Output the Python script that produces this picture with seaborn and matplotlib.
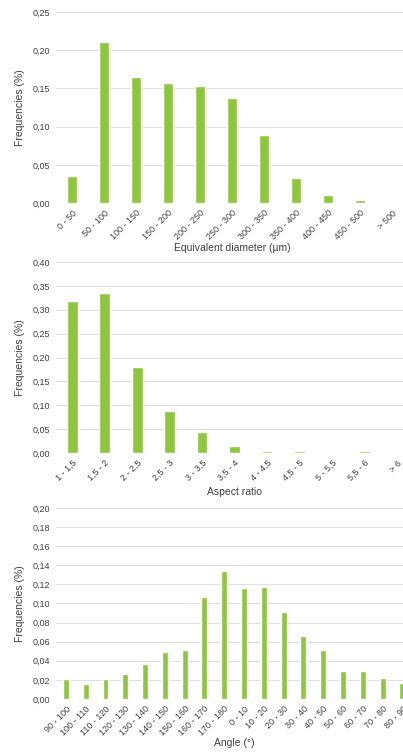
import matplotlib
matplotlib.use("Agg")
import matplotlib.pyplot as plt
import seaborn as sns
import pandas as pd

# data
diam_labels = ["0 - 50", "50 - 100", "100 - 150", "150 - 200", "200 - 250", "250 - 300",
               "300 - 350", "350 - 400", "400 - 450", "450 - 500", "> 500"]
diam_freq = [0.036, 0.211, 0.165, 0.157, 0.153, 0.137, 0.089, 0.033, 0.011, 0.004, 0.0015]

ar_labels = ["1 - 1,5", "1,5 - 2", "2 - 2,5", "2,5 - 3", "3 - 3,5", "3,5 - 4",
             "4 - 4,5", "4,5 - 5", "5 - 5,5", "5,5 - 6", "> 6"]
ar_freq = [0.318, 0.336, 0.180, 0.089, 0.043, 0.014, 0.004, 0.004, 0.003, 0.005, 0.003]

angle_labels = ["90 - 100", "100 - 110", "110 - 120", "120 - 130", "130 - 140", "140 - 150",
                "150 - 160", "160 - 170", "170 - 180", "0 - 10", "10 - 20", "20 - 30",
                "30 - 40", "40 - 50", "50 - 60", "60 - 70", "70 - 80", "80 - 90"]
angle_freq = [0.021, 0.016, 0.021, 0.026, 0.037, 0.049, 0.051, 0.107, 0.134, 0.116,
              0.117, 0.091, 0.066, 0.051, 0.029, 0.029, 0.022, 0.017]

sns.set_style("white")
plt.rcParams['font.family'] = ['Liberation Sans', 'DejaVu Sans']

GREEN = "#8dc63f"
TXT = "#404040"

fig = plt.figure(figsize=(4.03, 7.52), dpi=100)


def panel(rect, labels, vals, ymax, ystep, xlabel, width, xpad):
    ax = fig.add_axes(rect)
    df = pd.DataFrame({"cat": labels, "freq": vals})
    sns.barplot(data=df, x="cat", y="freq", color=GREEN, width=width,
                saturation=1, ax=ax, zorder=3)
    ax.set_xlim(-0.5, len(labels) - 0.5)
    ax.set_ylim(0, ymax)
    ticks = [i * ystep for i in range(int(round(ymax / ystep)) + 1)]
    ax.set_yticks(ticks)
    ax.set_yticklabels([f"{t:.2f}".replace(".", ",") for t in ticks],
                       fontsize=6.5, color=TXT)
    ax.set_xticks(range(len(labels)))
    ax.set_xticklabels(labels, rotation=45, ha="right", rotation_mode="anchor",
                       fontsize=6.5, color=TXT)
    ax.tick_params(length=0, pad=4)
    for s in ax.spines.values():
        s.set_visible(False)
    ax.grid(axis="y", color="#e0e0e0", linewidth=0.7, zorder=0)
    ax.set_ylabel("Frequencies (%)", fontsize=7.5, color=TXT, labelpad=6)
    ax.set_xlabel(xlabel, fontsize=7.5, color=TXT, labelpad=xpad)
    return ax


panel([0.139, 0.730, 0.873, 0.254], diam_labels, diam_freq, 0.25, 0.05,
      "Equivalent diameter (µm)", 0.33, 1)
panel([0.139, 0.3976, 0.886, 0.254], ar_labels, ar_freq, 0.40, 0.05,
      "Aspect ratio", 0.33, 3)
panel([0.139, 0.0705, 0.884, 0.254], angle_labels, angle_freq, 0.20, 0.02,
      "Angle (°)", 0.3, 0)

fig.savefig("out.png", dpi=100)
